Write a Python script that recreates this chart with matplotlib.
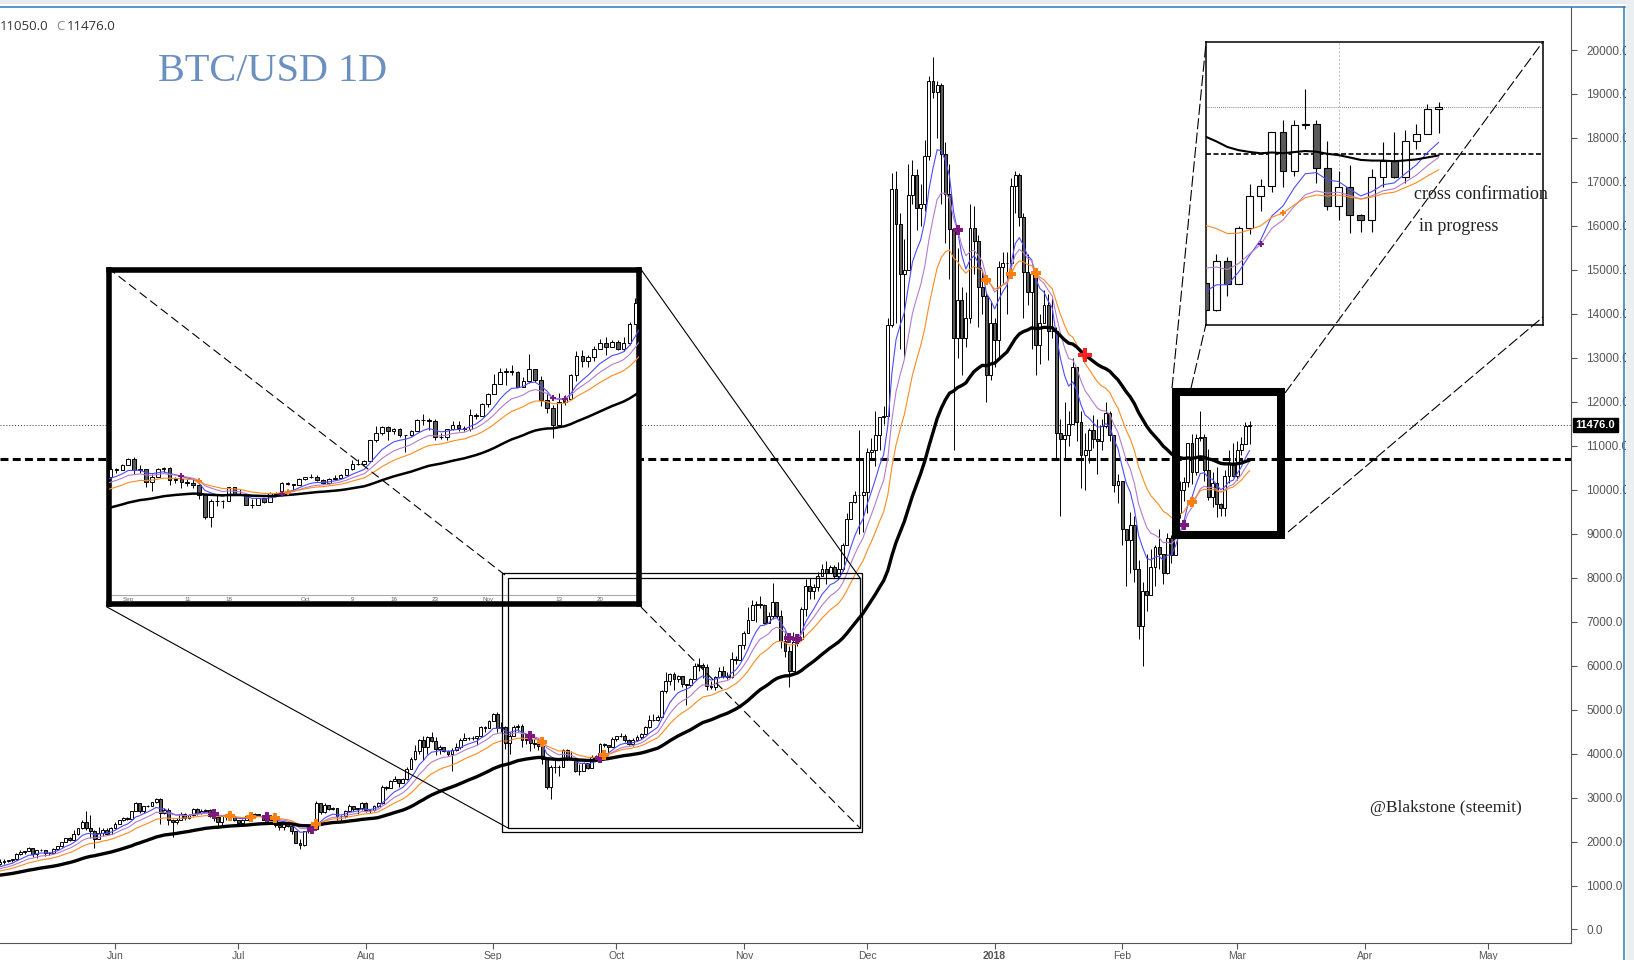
import numpy as np
import pandas as pd
import matplotlib
matplotlib.use("Agg")
import matplotlib.pyplot as plt
import matplotlib.transforms as mtransforms
from matplotlib.patches import Rectangle

# april 2017 closes, only used to warm up the moving averages
close_apr = [1080, 1100, 1145, 1140, 1130, 1190, 1190, 1180, 1205, 1210, 1225, 1215, 1170, 1180, 1185,
             1185, 1205, 1210, 1225, 1250, 1260, 1250, 1255, 1255, 1280, 1310, 1345, 1335, 1350, 1350]

# daily BTC/USD candles, 2017-05-01 .. 2018-03-04 (open = previous close)
first_day = "2017-05-01"
close = [
    1421, 1452, 1490, 1537, 1555, 1578, 1596, 1723, 1755, 1788, 1848, 1724, 1805, 1809, 1739, 1734, 1839, 1888, 1987, 2084, 2041, 2174, 2303, 2443, 2306, 2232, 2052, 2190, 2270, 2180, 2303,
    2408, 2490, 2545, 2520, 2699, 2882, 2700, 2800, 2810, 2890, 2970, 2660, 2720, 2480, 2450, 2500, 2630, 2530, 2600, 2730, 2650, 2700, 2720, 2580, 2550, 2450, 2590, 2580, 2550, 2480,
    2430, 2500, 2570, 2610, 2620, 2610, 2500, 2560, 2500, 2370, 2340, 2400, 2360, 2230, 1970, 1920, 2230, 2320, 2290, 2870, 2670, 2830, 2750, 2760, 2580, 2570, 2700, 2800, 2730, 2760, 2880,
    2720, 2710, 2800, 2870, 3250, 3220, 3380, 3420, 3340, 3420, 3650, 3870, 4060, 4320, 4160, 4380, 4290, 4100, 4150, 4060, 4000, 4090, 4140, 4320, 4360, 4350, 4350, 4390, 4600, 4590, 4740,
    4900, 4580, 4600, 4240, 4400, 4600, 4630, 4310, 4330, 4230, 4210, 4170, 3880, 3240, 3700, 3700, 3690, 4090, 3910, 3880, 3600, 3600, 3780, 3670, 3930, 3890, 4210, 4190, 4160, 4340,
    4400, 4400, 4310, 4220, 4320, 4370, 4440, 4610, 4770, 4770, 4830, 5430, 5650, 5810, 5690, 5760, 5590, 5570, 5700, 6000, 6010, 5980, 5530, 5520, 5740, 5880, 5770, 5750, 6150, 6130, 6470,
    6750, 7030, 7380, 7400, 7380, 6960, 7120, 7450, 7140, 6570, 6340, 5880, 6530, 6600, 7290, 7820, 7690, 7790, 8040, 8200, 8100, 8240, 8030, 8200, 8750, 9330, 9730, 9890, 9890, 9950,
    10860, 10910, 11250, 11650, 11670, 13750, 16850, 16050, 14900, 15000, 16700, 17150, 16400, 16500, 17600, 19300, 19050, 19200, 17630, 16720, 15920, 13460, 14310, 13460, 13900, 15960, 15660, 14610, 14400, 12600, 13800,
    13400, 15070, 15150, 15150, 16900, 17160, 16210, 14950, 14500, 14900, 13290, 13800, 14200, 13600, 13600, 11300, 11150, 11250, 11500, 12800, 11550, 10800, 10900, 11350, 11150, 11100, 11450, 11750, 11250, 10100, 10200,
    9100, 8850, 9200, 8200, 6900, 7700, 7600, 8250, 8700, 8550, 8100, 8910, 8520, 9460, 10000, 10170, 11060, 10410, 11180, 11200, 10460, 9830, 10150, 9680, 9590, 10320, 10590, 10320,
    10910, 11030, 11450, 11476,
]
high = [
    1435, 1475, 1495, 1600, 1610, 1590, 1610, 1730, 1800, 1795, 1880, 1850, 1810, 1830, 1800, 1760, 1845, 1900, 1990, 2090, 2100, 2270, 2310, 2480, 2700, 2600, 2260, 2320, 2300, 2300, 2330,
    2450, 2490, 2560, 2560, 2700, 2900, 2885, 2810, 2840, 2910, 2990, 2980, 2760, 2770, 2510, 2530, 2670, 2640, 2620, 2770, 2760, 2730, 2740, 2730, 2610, 2570, 2600, 2610, 2600, 2560,
    2500, 2520, 2600, 2650, 2640, 2630, 2610, 2570, 2580, 2520, 2400, 2430, 2420, 2380, 2230, 2050, 2240, 2410, 2400, 2920, 2870, 2880, 2840, 2790, 2770, 2610, 2710, 2850, 2800, 2770, 2900,
    2900, 2750, 2820, 2890, 3290, 3270, 3400, 3480, 3420, 3440, 3700, 3930, 4200, 4330, 4400, 4400, 4480, 4370, 4190, 4160, 4080, 4130, 4250, 4350, 4460, 4370, 4390, 4390, 4630, 4630, 4770,
    4930, 4950, 4720, 4620, 4480, 4650, 4680, 4680, 4390, 4330, 4330, 4360, 4180, 3910, 3750, 3860, 3730, 4110, 4100, 4050, 3880, 3760, 3800, 3780, 3970, 3970, 4230, 4250, 4200, 4370,
    4400, 4470, 4440, 4340, 4360, 4430, 4460, 4620, 4870, 4900, 4870, 5440, 5850, 5830, 5850, 5780, 5770, 5590, 5720, 6050, 6180, 6060, 6030, 5650, 5760, 5970, 5990, 5850, 6310, 6210, 6480,
    6780, 7330, 7500, 7480, 7580, 7410, 7220, 7880, 7450, 7260, 6790, 6450, 6770, 6720, 7330, 7970, 8000, 7850, 8120, 8310, 8370, 8300, 8290, 8360, 8790, 9480, 9730, 9970, 11350, 10700,
    10960, 11170, 11800, 11650, 11900, 13900, 17200, 17250, 16300, 15700, 17400, 17500, 17300, 16950, 17950, 19400, 19850, 19300, 19250, 17900, 17400, 15920, 15500, 14600, 14500, 16500, 16450, 15800, 15000, 14500, 14300,
    13900, 15200, 15400, 15400, 17100, 17250, 17200, 16300, 15350, 14950, 14900, 14000, 14550, 14450, 14350, 13700, 11600, 12000, 11800, 13000, 12800, 11800, 11300, 11400, 11700, 11600, 11600, 12000, 11800, 11250, 10350,
    10200, 9100, 9500, 9400, 8400, 7900, 8550, 8650, 8750, 9100, 8550, 9020, 8970, 9490, 10200, 10280, 11070, 11260, 11260, 11790, 11260, 10920, 10410, 10520, 9700, 10450, 10900, 11060,
    11100, 11200, 11540, 11560,
]
low = [
    1347, 1405, 1432, 1470, 1500, 1530, 1540, 1590, 1705, 1720, 1780, 1660, 1620, 1780, 1680, 1690, 1720, 1810, 1880, 1980, 2020, 2040, 2150, 2290, 2260, 2080, 1850, 2080, 2130, 2160, 2170,
    2300, 2390, 2460, 2490, 2510, 2690, 2640, 2660, 2780, 2810, 2880, 2400, 2620, 2370, 2100, 2400, 2490, 2500, 2510, 2580, 2600, 2620, 2680, 2550, 2470, 2300, 2360, 2500, 2520, 2470,
    2400, 2380, 2490, 2560, 2570, 2590, 2490, 2480, 2500, 2320, 2270, 2260, 2320, 2180, 1970, 1840, 1910, 2200, 2250, 2260, 2620, 2660, 2710, 2710, 2490, 2470, 2540, 2680, 2700, 2620, 2720,
    2680, 2660, 2700, 2780, 2860, 3180, 3220, 3380, 3250, 3330, 3410, 3650, 3850, 4000, 3850, 4000, 4260, 3960, 3980, 4040, 3950, 3600, 4070, 4100, 4300, 4300, 4320, 4200, 4380, 4500, 4580,
    4730, 4480, 4490, 4100, 3980, 4400, 4520, 4150, 4220, 4070, 4130, 4080, 3770, 3200, 2970, 3560, 3500, 3690, 3860, 3860, 3590, 3510, 3600, 3640, 3670, 3870, 3890, 4150, 4020, 4160,
    4290, 4370, 4260, 4190, 4180, 4300, 4340, 4440, 4580, 4740, 4730, 4830, 5380, 5570, 5450, 5620, 5520, 5110, 5560, 5700, 5870, 5720, 5450, 5460, 5450, 5720, 5710, 5690, 5710, 6030, 6120,
    6390, 6950, 7030, 7000, 7300, 6950, 6960, 7050, 7080, 6400, 6200, 5510, 5880, 6440, 6600, 7130, 7520, 7510, 7700, 8030, 7850, 8100, 8000, 7980, 8150, 8750, 9330, 9700, 9000, 9050,
    9460, 10690, 10550, 10900, 11500, 11600, 13700, 13800, 13200, 13000, 15000, 16500, 15900, 16000, 16350, 17500, 18900, 18000, 16500, 15600, 14800, 10900, 13000, 12600, 13250, 13800, 14900, 13700, 14000, 12000, 12500,
    12800, 13000, 14700, 14000, 14950, 16300, 16000, 13900, 14200, 13200, 12600, 12850, 13800, 12950, 13450, 10700, 9400, 10700, 11000, 11500, 11100, 10050, 10000, 10600, 10950, 10350, 10900, 11400, 11100, 9950, 9700,
    8750, 7800, 8100, 7900, 6600, 6000, 7250, 7650, 7800, 8200, 7850, 8080, 8330, 8520, 9360, 9740, 10060, 10140, 10330, 11110, 10210, 9770, 9600, 9380, 9400, 9400, 10150, 10300,
    10220, 10790, 11030, 11050,
]

ma_periods = [8, 13, 21]                       # blue, purple, orange ema
ma_colors = ["#4d4dff", "#b47ccb", "#ff8a1e"]
slow_period = 50                               # black ema

# crossing marks
purple_cross = ["2017-06-25", "2017-07-08", "2017-07-19", "2017-09-10", "2017-09-27",
                "2017-11-12", "2017-11-14", "2017-12-23", "2018-02-16"]
orange_cross = ["2017-06-29", "2017-07-04", "2017-07-10", "2017-07-20", "2017-09-13",
                "2017-09-28", "2017-12-30", "2018-01-05", "2018-01-11", "2018-02-18"]
red_cross = ["2018-01-23"]

support = 10700
month_labels = ["Jun", "Jul", "Aug", "Sep", "Oct", "Nov", "Dec", "2018", "Feb", "Mar", "Apr", "May"]
zoom_days = ["2017-09-01", "2017-09-11", "2017-09-18", "2017-10-01", "2017-10-09", "2017-10-16",
             "2017-10-23", "2017-11-01", "2017-11-13", "2017-11-20"]
zoom_labels = ["Sep", "11", "18", "Oct", "9", "16", "23", "Nov", "13", "20"]

# ---------------------------------------------------------------
origin = pd.Timestamp("2017-06-01")


def dnum(d):
    return (pd.Timestamp(d) - origin).days


dates = pd.date_range(first_day, periods=len(close), freq="D")
x = np.asarray((dates - origin).days, dtype=float)
c = np.array(close, float)
h = np.array(high, float)
l = np.array(low, float)
o = np.r_[close_apr[-1], c[:-1]]

allc = pd.Series(close_apr + close, dtype=float)
n0 = len(close_apr)
emas = [allc.ewm(span=p, adjust=False).mean().values[n0:] for p in ma_periods]
slow = allc.ewm(span=slow_period, adjust=False).mean().values[n0:]


def idx(d):
    return int(np.searchsorted(x, dnum(d)))


W, H = 1634, 960
fig = plt.figure(figsize=(W / 100, H / 100), dpi=100)


def box(x0, y0, x1, y1):
    return [x0 / W, 1 - y1 / H, (x1 - x0) / W, (y1 - y0) / H]


def draw_chart(a, w, lw_c, lw_ma, lw_slow, ms):
    up = c >= o
    a.vlines(x, l, h, color="black", lw=lw_c, zorder=2)
    a.bar(x[up], (c - o)[up], bottom=o[up], width=w, color="white",
          edgecolor="black", lw=lw_c, zorder=3)
    a.bar(x[~up], (o - c)[~up], bottom=c[~up], width=w, color="#5a5a5a",
          edgecolor="black", lw=lw_c, zorder=3)
    for e, col in zip(emas, ma_colors):
        a.plot(x, e, color=col, lw=lw_ma, zorder=4)
    a.plot(x, slow, color="black", lw=lw_slow, zorder=4, solid_capstyle="round")
    for d in purple_cross:
        i = idx(d)
        a.plot(x[i], emas[1][i], "P", color="#7d1a80", ms=ms, mew=0, zorder=6)
    for d in orange_cross:
        i = idx(d)
        a.plot(x[i], emas[2][i], "P", color="#ff7f10", ms=ms, mew=0, zorder=6)
    for d in red_cross:
        i = idx(d)
        a.plot(x[i], slow[i], "P", color="#ff2020", ms=ms * 1.5, mew=0, zorder=6)


# main chart
ax = fig.add_axes(box(0, 7, 1571, 943))
draw_chart(ax, 0.7, 0.7, 0.8, 2.4, 6.5)
ax.set_xlim(-27.97, 354.2)
ax.set_ylim(-307, 20978)
ax.axhline(close[-1], color="#333333", lw=0.7, ls=(0, (1, 2)), zorder=1)
ax.axhline(support, color="black", lw=2.2, ls=(0, (2.6, 1.4)), zorder=1)

for s in ["top", "left"]:
    ax.spines[s].set_visible(False)
for s in ["right", "bottom"]:
    ax.spines[s].set_color("#555555")
ax.yaxis.tick_right()
ax.set_yticks(np.arange(0, 20001, 1000))
ax.set_yticklabels([f"{v:.1f}" for v in np.arange(0, 20001, 1000)])
ax.tick_params(axis="y", length=4, width=0.8, color="#555555", labelsize=8.5,
               labelcolor="#555555", pad=7)
months = pd.date_range("2017-06-01", "2018-05-01", freq="MS")
ax.set_xticks([dnum(m) for m in months])
ax.set_xticklabels(month_labels)
ax.tick_params(axis="x", length=4, width=0.8, color="#555555", labelsize=7.5,
               labelcolor="#555555", pad=2)
for t in ax.get_xticklabels():
    t.set_family("Liberation Sans")
    if t.get_text() == "2018":
        t.set_fontweight("bold")
for t in ax.get_yticklabels():
    t.set_family("Liberation Sans")

tr = mtransforms.blended_transform_factory(ax.transAxes, ax.transData)
ax.text(1.003, close[-1], f"{close[-1]:.1f}", transform=tr, color="white",
        fontweight="bold", fontsize=8, va="center", ha="left", family="Liberation Sans",
        bbox=dict(boxstyle="square,pad=0.2", fc="black", ec="black"), clip_on=False)

# large zoom inset (Sep - Nov)
ins1 = fig.add_axes(box(109, 270, 639, 604), zorder=5)
ins1.set_facecolor("white")
draw_chart(ins1, 0.62, 0.7, 0.8, 1.8, 5)
ins1.set_xlim(88.73, 178.6)
ins1.set_ylim(770, 10280)
ins1.set_xticks([])
ins1.set_yticks([])
for s in ins1.spines.values():
    s.set_linewidth(4.0)
ins1.plot([0, 1], [0.028, 0.028], transform=ins1.transAxes, color="#aaaaaa", lw=0.8)
tr1 = mtransforms.blended_transform_factory(ins1.transData, ins1.transAxes)
for d, lab in zip(zoom_days, zoom_labels):
    ins1.text(dnum(d), 0.013, lab, transform=tr1, fontsize=4.5, color="#666666",
              ha="center", va="center", family="Liberation Sans")

# small zoom inset (last three weeks)
ins2 = fig.add_axes(box(1206, 42, 1543, 325), zorder=5)
ins2.set_facecolor("white")
draw_chart(ins2, 0.62, 0.8, 0.8, 1.5, 4.5)
ins2.axhline(close[-1], color="#555555", lw=0.6, ls=(0, (1, 1.5)), zorder=1)
ins2.axhline(support, color="black", lw=1.2, ls=(0, (3, 1.5)), zorder=1)
ins2.axvline(dnum("2018-02-23"), color="#bbbbbb", lw=0.7, ls=(0, (2, 2)), zorder=1)
ins2.set_xlim(255.07, 285.4)
ins2.set_ylim(7842, 12570)
ins2.set_xticks([])
ins2.set_yticks([])
for s in ins2.spines.values():
    s.set_linewidth(1.1)

# overlay in pixel coordinates for the zoom frames and leader lines
ov = fig.add_axes([0, 0, 1, 1], zorder=10)
ov.set_xlim(0, W)
ov.set_ylim(H, 0)
ov.axis("off")
ov.patch.set_alpha(0)

ov.add_patch(Rectangle((502, 573), 360, 259, fill=False, lw=0.9, ec="black"))
ov.add_patch(Rectangle((508, 578), 352, 250, fill=False, lw=0.9, ec="black"))
ov.add_patch(Rectangle((1176, 392), 105, 143, fill=False, lw=5.8, ec="black",
                       joinstyle="miter"))

ov.plot([640, 860], [268, 578], color="black", lw=0.8)
ov.plot([107, 508], [607, 828], color="black", lw=0.8)
ov.plot([108, 505], [268, 575], color="black", lw=0.8, ls=(0, (8, 4)))
ov.plot([641, 860], [607, 828], color="black", lw=0.8, ls=(0, (8, 4)))
ov.plot([1172, 1206], [388, 43], color="black", lw=0.8, ls=(0, (10, 3)))
ov.plot([1191, 1206], [388, 324], color="black", lw=0.8, ls=(0, (10, 3)))
ov.plot([1285, 1542], [393, 43], color="black", lw=0.8, ls=(0, (10, 3)))
ov.plot([1288, 1543], [532, 317], color="black", lw=0.8, ls=(0, (10, 3)))

# window chrome
ov.add_patch(Rectangle((0, 0), W, 4, color="#e8ebee", lw=0))
ov.add_patch(Rectangle((1626, 0), 8, H, color="#eceff1", lw=0))
ov.plot([0, 1625], [6.5, 6.5], color="#2b7bb9", lw=1.1)
ov.plot([1624.5, 1624.5], [6.5, H], color="#2b7bb9", lw=1.1)


def ftext(px, py, s, **kw):
    fig.text(px / W, 1 - py / H, s, **kw)


ftext(0, 27, "11050.0", fontsize=9.5, color="#333333", va="center", family="Open Sans")
ftext(56, 27, "C", fontsize=9.5, color="#888888", va="center", family="Open Sans")
ftext(67, 27, "11476.0", fontsize=9.5, color="#333333", va="center", family="Open Sans")
ftext(158, 81, "BTC/USD 1D", fontsize=29, color="#6b8fc0", va="baseline",
      family="Liberation Serif")
ftext(1414, 199, "cross confirmation", fontsize=13, color="#222222", va="baseline",
      family="Liberation Serif", zorder=12)
ftext(1419, 231, "in progress", fontsize=13, color="#222222", va="baseline",
      family="Liberation Serif", zorder=12)
ftext(1370, 812, "@Blakstone (steemit)", fontsize=12.5, color="#222222", va="baseline",
      family="Liberation Serif")

fig.savefig("out.png", dpi=100)
